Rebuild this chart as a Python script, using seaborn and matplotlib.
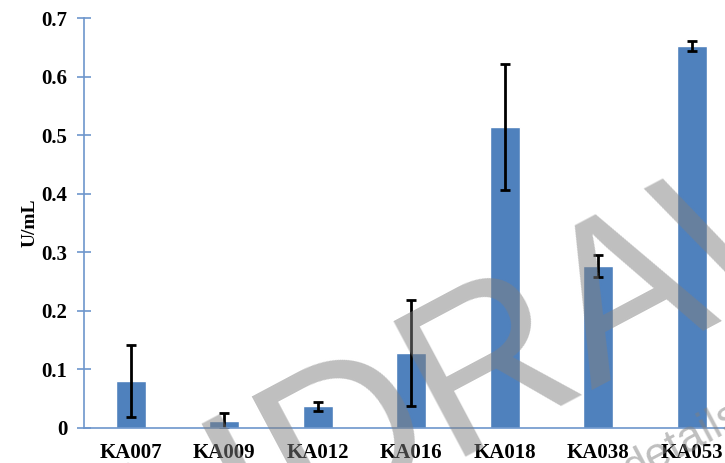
import numpy as np
import pandas as pd
import seaborn as sns
import matplotlib.pyplot as plt

# enzyme activity per isolate
isolates = ['KA007', 'KA009', 'KA012', 'KA016', 'KA018', 'KA038', 'KA053']
activity = [0.080, 0.012, 0.037, 0.128, 0.514, 0.277, 0.652]
activity_sd = [0.061, 0.014, 0.008, 0.090, 0.108, 0.019, 0.009]

df = pd.DataFrame({'isolate': isolates, 'activity': activity, 'sd': activity_sd})

sns.set_theme(style="white")
plt.rcParams['font.family'] = ['Liberation Serif', 'DejaVu Serif']

blue = '#4F81BD'
axis_blue = '#6D96CC'

fig = plt.figure(figsize=(7.25, 4.63), dpi=100)
ax = fig.add_axes([0.1159, 0.0756, 0.9028, 0.8855])

sns.barplot(data=df, x='isolate', y='activity', color=blue, saturation=1,
            width=0.32, errorbar=None, ax=ax)

# error bars at the category positions
ax.errorbar(np.arange(len(isolates)), df['activity'], yerr=df['sd'],
            fmt='none', ecolor='black', elinewidth=2, capsize=3.5, capthick=2)

ax.set_ylim(0, 0.7)
ax.set_xlim(-0.5, len(isolates) - 0.5)
ax.set_yticks(np.arange(0, 0.71, 0.1))
ax.set_yticklabels(['0'] + [f'{v:.1f}' for v in np.arange(0.1, 0.71, 0.1)])

for side in ['top', 'right']:
    ax.spines[side].set_visible(False)
for side in ['left', 'bottom']:
    ax.spines[side].set_color(axis_blue)
    ax.spines[side].set_linewidth(1.2)

ax.tick_params(axis='y', direction='inout', length=10, width=1.2, color=axis_blue,
               left=True, labelsize=15, pad=7)
ax.tick_params(axis='x', bottom=False, labelsize=15, pad=5)
for lbl in ax.get_xticklabels() + ax.get_yticklabels():
    lbl.set_fontweight('bold')
    lbl.set_color('black')

ax.set_xlabel('')
ax.set_ylabel('U/mL', fontsize=14, fontweight='bold', color='black', labelpad=2)

# retraction watermark laid over the chart
fig.text(0.586, -0.032, 'WITHDRAWN', fontsize=160, color='#808080', alpha=0.5,
         rotation=28, rotation_mode='anchor', ha='center', va='baseline',
         family='Liberation Sans', zorder=10)
fig.text(0.941, 0.043, 'details', fontsize=32, color='#808080', alpha=0.5,
         rotation=28, rotation_mode='anchor', ha='center', va='center',
         family='Liberation Sans', zorder=10)

plt.savefig('out.png', dpi=100)
